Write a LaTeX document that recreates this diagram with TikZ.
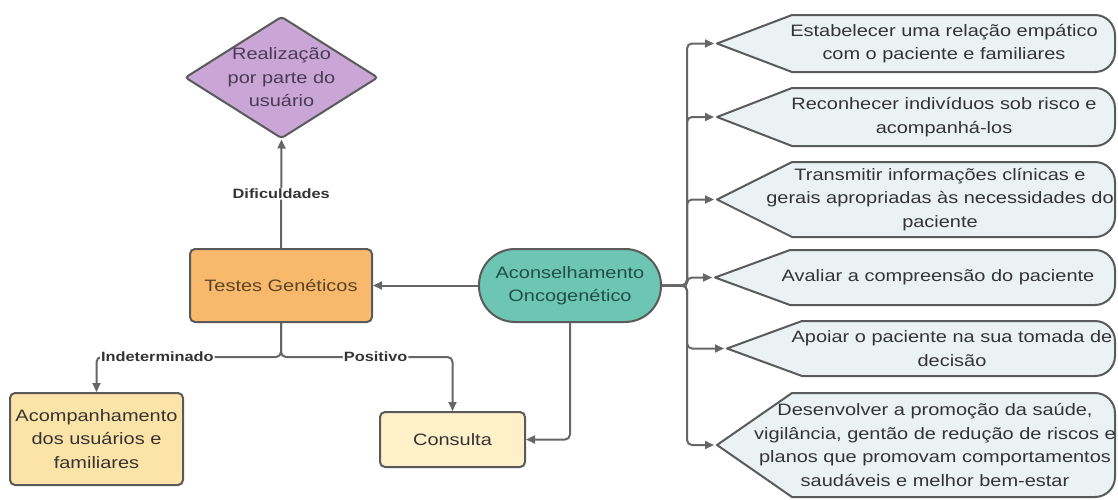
\documentclass[tikz,border=0pt]{standalone}
\usepackage{fontspec}
\setmainfont[FakeStretch=1.21]{Liberation Sans}
\usetikzlibrary{shapes.geometric,arrows.meta}
\definecolor{lc}{HTML}{666666}
\definecolor{bd}{HTML}{5A5A5A}
\definecolor{purpfill}{HTML}{C9A6D6}
\definecolor{orngfill}{HTML}{F9B96C}
\definecolor{tealfill}{HTML}{6DC5B3}
\definecolor{ylwfill}{HTML}{FCE3A8}
\definecolor{crmfill}{HTML}{FEF1CA}
\definecolor{lbluefill}{HTML}{EAF2F3}
\definecolor{txt}{HTML}{343434}
\definecolor{purptxt}{HTML}{4B3A55}
\definecolor{browntxt}{HTML}{5B4524}
\definecolor{tealtxt}{HTML}{234F47}
\tikzset{
  conn/.style={draw=lc, line width=2pt, rounded corners=5pt},
  arr/.style={conn, -{Triangle[length=9pt,width=8pt]}},
  box/.style={draw=bd, line width=2pt, rounded corners=5pt, align=center, text=txt, font=\fontsize{16.5}{23.5}\selectfont},
  lbl/.style={fill=white, inner sep=1pt, font=\bfseries\fontsize{13.5}{16}\selectfont, text=txt},
  disp/.style={draw=bd, line width=2pt, fill=lbluefill, line join=round},
  rtext/.style={align=center, text=txt, font=\fontsize{16.5}{23.5}\selectfont, inner sep=0pt},
}
\newcommand\dispshape[6]{%
  \draw[disp] (#4,{(#2+#3)/2}) coordinate (#1) -- ({#4+75},#2) -- (1095,#2)
    .. controls (1106,#2) and (1115,{#2+9}) .. (1115,{#2+20}) -- (1115,{#3-20})
    .. controls (1115,{#3-9}) and (1106,#3) .. (1095,#3) -- ({#4+75},#3) -- cycle;
  \node[rtext] (#1t) at (#5,{(#2+#3)/2}) {#6};
}
\begin{document}
\begin{tikzpicture}[x=1pt,y=-1pt]
\useasboundingbox (0,0) rectangle (1118,499);

\node[box, shape=diamond, fill=purpfill, rounded corners=3pt, inner xsep=-6pt, inner ysep=-3pt,
      minimum width=193pt, minimum height=122pt, aspect=1.58, text=purptxt] (real) at (281.5,77.5)
      {Realização\\por parte do\\usuário};
\node[box, fill=orngfill, minimum width=182pt, minimum height=73pt, text=browntxt] (testes) at (281,285.5) {Testes Genéticos};
\node[box, fill=tealfill, rounded corners=36pt, minimum width=182pt, minimum height=73pt, text=tealtxt] (acons) at (570,285.5) {Aconselhamento\\Oncogenético};
\node[box, fill=ylwfill, minimum width=173pt, minimum height=92pt, inner xsep=2pt] (acomp) at (96.5,439) {Acompanhamento\\dos usuários e\\familiares};
\node[box, fill=crmfill, minimum width=145pt, minimum height=55pt] (cons) at (452.5,439.5) {Consulta};

\draw[arr] (testes.north) -- node[lbl]{Dificuldades} (real.south);
\coordinate (split) at (281,357);
\draw[arr] (testes.south) -- (split) -| node[lbl, pos=0.335]{Indeterminado} (acomp.north);
\draw[arr] (testes.south) -- (split) -| node[lbl, pos=0.276]{Positivo} (cons.north);
\draw[arr] (acons.west) -- (testes.east);
\draw[arr] (acons.south) |- (cons.east);

\dispshape{r1}{15}{72}{717}{944}{Estabelecer uma relação empático\\com o paciente e familiares}
\dispshape{r2}{88}{146}{717}{944}{Reconhecer indivíduos sob risco e\\acompanhá-los}
\dispshape{r3}{162}{237}{717}{940}{Transmitir informações clínicas e\\gerais apropriadas às necessidades do\\paciente}
\dispshape{r4}{250}{305}{715}{938}{Avaliar a compreensão do paciente}
\dispshape{r5}{321}{376}{727}{952}{Apoiar o paciente na sua tomada de\\decisão}
\dispshape{r6}{393}{497}{717}{935}{Desenvolver a promoção da saúde,\\vigilância, gentão de redução de riscos e\\planos que promovam comportamentos\\saudáveis e melhor bem-estar}

\coordinate (trunk) at (687,285.5);
\foreach \r in {r1,r2,r3,r4,r5,r6}{
  \draw[arr, shorten >=3pt] (acons.east) -- (trunk) |- (\r);
}
\end{tikzpicture}
\end{document}
